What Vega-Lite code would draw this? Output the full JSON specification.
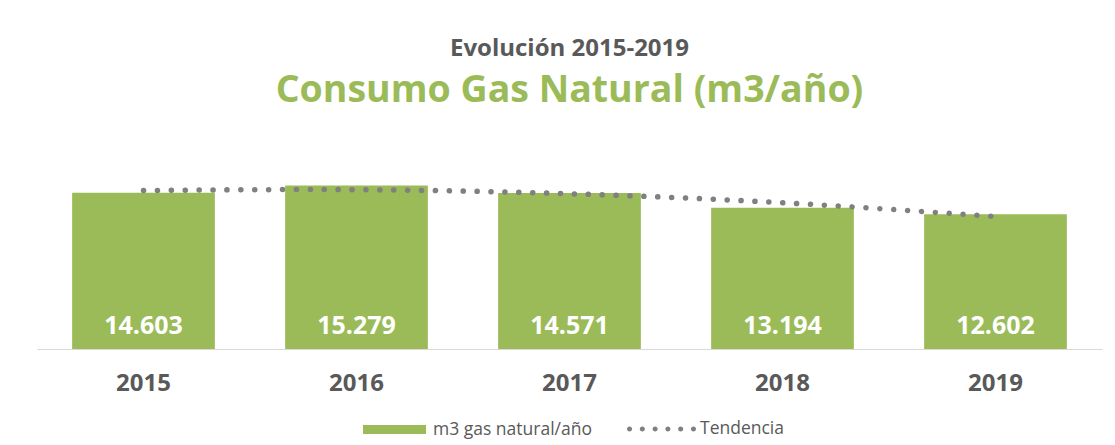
{
  "$schema": "https://vega.github.io/schema/vega-lite/v6.json",
  "width": 1065,
  "height": 214,
  "autosize": "none",
  "padding": {"left": 37, "top": 135, "right": 13, "bottom": 96},
  "background": "white",
  "title": {
    "text": "Evolución 2015-2019",
    "subtitle": "Consumo Gas Natural (m3/año)",
    "anchor": "middle",
    "font": "Open Sans",
    "fontSize": 24,
    "fontWeight": "bold",
    "color": "#595959",
    "subtitleFont": "Open Sans",
    "subtitleFontSize": 37.5,
    "subtitleFontWeight": "bold",
    "subtitleColor": "#9bbb59",
    "subtitlePadding": 11,
    "offset": 26
  },
  "data": {
    "values": [
      {"year": "2015", "value": 14603, "label": "14.603", "tendencia": 14809},
      {"year": "2016", "value": 15279, "label": "15.279", "tendencia": 14887},
      {"year": "2017", "value": 14571, "label": "14.571", "tendencia": 14508},
      {"year": "2018", "value": 13194, "label": "13.194", "tendencia": 13670},
      {"year": "2019", "value": 12602, "label": "12.602", "tendencia": 12375}
    ]
  },
  "encoding": {
    "x": {
      "field": "year",
      "type": "ordinal",
      "scale": {"paddingInner": 0.33, "paddingOuter": 0.165},
      "axis": {
        "title": null,
        "labelAngle": 0,
        "labelFont": "Open Sans",
        "labelFontSize": 24,
        "labelFontWeight": "bold",
        "labelColor": "#595959",
        "ticks": false,
        "domainColor": "#d9d9d9",
        "domainWidth": 1,
        "labelPadding": 22
      }
    }
  },
  "layer": [
    {
      "mark": {"type": "bar"},
      "encoding": {
        "y": {"field": "value", "type": "quantitative", "scale": {"domain": [0, 20000], "nice": false}, "axis": null},
        "fill": {
          "datum": "m3 gas natural/año",
          "scale": {"range": ["#9bbb59"]},
          "legend": {
            "title": null,
            "orient": "none",
            "legendX": 326,
            "legendY": 263,
            "padding": 0,
            "symbolType": "M-1,-0.143L1,-0.143L1,0.143L-1,0.143Z",
            "symbolSize": 3969,
            "symbolStrokeWidth": 0,
            "labelOffset": 7,
            "labelFont": "Open Sans",
            "labelFontSize": 17.5,
            "labelColor": "#595959"
          }
        }
      }
    },
    {
      "mark": {"type": "line", "strokeWidth": 5.5, "strokeCap": "round", "strokeDash": [0.1, 13.8], "interpolate": "natural"},
      "encoding": {
        "y": {"field": "tendencia", "type": "quantitative"},
        "stroke": {
          "datum": "Tendencia",
          "scale": {"range": ["#808080"]},
          "legend": {
            "title": null,
            "orient": "none",
            "legendX": 590,
            "legendY": 260,
            "padding": 0,
            "symbolType": "M-1,0a0.075,0.075 0 1,0 0.15,0a0.075,0.075 0 1,0 -0.15,0M-0.624,0a0.075,0.075 0 1,0 0.15,0a0.075,0.075 0 1,0 -0.15,0M-0.248,0a0.075,0.075 0 1,0 0.15,0a0.075,0.075 0 1,0 -0.15,0M0.128,0a0.075,0.075 0 1,0 0.15,0a0.075,0.075 0 1,0 -0.15,0M0.504,0a0.075,0.075 0 1,0 0.15,0a0.075,0.075 0 1,0 -0.15,0M0.88,0a0.075,0.075 0 1,0 0.15,0a0.075,0.075 0 1,0 -0.15,0",
            "symbolSize": 4624,
            "labelOffset": 5,
            "labelFont": "Open Sans",
            "labelFontSize": 17.5,
            "labelColor": "#595959",
            "encode": {
              "symbols": {
                "update": {
                  "fill": {"value": "#808080"},
                  "stroke": {"value": "transparent"},
                  "strokeWidth": {"value": 0},
                  "strokeDash": {"value": []}
                }
              }
            }
          }
        }
      }
    },
    {
      "mark": {"type": "text", "font": "Open Sans", "fontSize": 25, "fontWeight": "bold", "color": "white", "baseline": "alphabetic", "dy": -15},
      "encoding": {
        "y": {"datum": 0, "type": "quantitative"},
        "text": {"field": "label"}
      }
    }
  ],
  "config": {
    "view": {"stroke": null}
  }
}
